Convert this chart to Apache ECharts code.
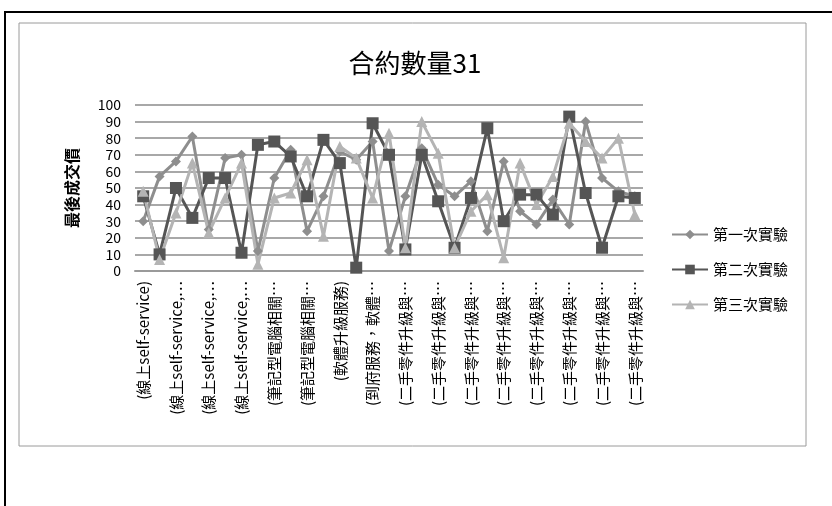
<!DOCTYPE html>
<html>
<head>
<meta charset="utf-8">
<script src="https://cdn.jsdelivr.net/npm/echarts@6/dist/echarts.min.js"></script>
<style>
  html, body { margin: 0; padding: 0; background: #fff; }
  #chart { width: 832px; height: 506px; }
</style>
</head>
<body>
<div id="chart"></div>
<script>
var categories = [
  '(線上self-service)', '(線上self-service)',
  '(線上self-service,…', '(線上self-service,…',
  '(線上self-service,…', '(線上self-service,…',
  '(線上self-service,…', '(筆記型電腦相關…',
  '(筆記型電腦相關…', '(筆記型電腦相關…',
  '(筆記型電腦相關…', '(軟體升級服務)',
  '(軟體升級服務)', '(到府服務，軟體…',
  '(到府服務，軟體…', '(二手零件升級與…',
  '(二手零件升級與…', '(二手零件升級與…',
  '(二手零件升級與…', '(二手零件升級與…',
  '(二手零件升級與…', '(二手零件升級與…',
  '(二手零件升級與…', '(二手零件升級與…',
  '(二手零件升級與…', '(二手零件升級與…',
  '(二手零件升級與…', '(二手零件升級與…',
  '(二手零件升級與…', '(二手零件升級與…',
  '(二手零件升級與…'
];
var seriesNames = ['第一次實驗', '第二次實驗', '第三次實驗'];
var trial1 = [30, 57, 66, 81, 25, 68, 70, 12, 56, 73, 24, 45, 72, 67, 78, 12,
              45, 74, 52, 45, 54, 24, 66, 36, 28, 43, 28, 90, 56, 48, 45];
var trial2 = [45, 10, 50, 32, 56, 56, 11, 76, 78, 69, 45, 79, 65, 2, 89, 70,
              13, 70, 42, 14, 44, 86, 30, 46, 46, 34, 93, 47, 14, 45, 44];
var trial3 = [48, 7, 35, 65, 23, 44, 65, 4, 44, 47, 67, 21, 75, 68, 44, 83,
              14, 90, 71, 14, 36, 46, 8, 65, 40, 57, 89, 78, 68, 80, 34];
var yTicks = [0, 10, 20, 30, 40, 50, 60, 70, 80, 90, 100];

var font = '"Noto Sans CJK TC", "Noto Sans", sans-serif';
var colors = ['#8e8e8e', '#555555', '#b4b4b4'];
var symbols = ['diamond', 'rect', 'triangle'];
var symbolSizes = [10, 12, 11];

var chart = echarts.init(document.getElementById('chart'));

var seriesList = [];
var allData = [trial1, trial2, trial3];
for (var i = 0; i < allData.length; i++) {
  seriesList.push({
    name: seriesNames[i],
    type: 'line',
    data: allData[i],
    symbol: symbols[i],
    symbolSize: symbolSizes[i],
    showAllSymbol: true,
    lineStyle: { color: colors[i], width: 3 },
    itemStyle: { color: colors[i] },
    emphasis: { disabled: true }
  });
}

var option = {
  animation: false,
  backgroundColor: '#fff',
  color: colors,
  textStyle: { fontFamily: font },
  title: {
    text: '合約數量31',
    left: 410,
    top: 45,
    textAlign: 'center',
    textStyle: { fontFamily: font, fontSize: 26, fontWeight: 'normal', color: '#000' }
  },
  legend: {
    orient: 'vertical',
    left: 666,
    top: 222,
    itemGap: 20,
    itemWidth: 36,
    itemHeight: 12,
    data: seriesNames,
    textStyle: { fontFamily: font, fontSize: 15, color: '#000' }
  },
  grid: { left: 135, right: 189, top: 105, bottom: 235, containLabel: false },
  xAxis: {
    type: 'category',
    data: categories,
    boundaryGap: true,
    axisLine: { lineStyle: { color: '#9a9a9a', width: 2 } },
    axisTick: { show: false },
    axisLabel: {
      interval: 1,
      rotate: 90,
      margin: 10,
      fontFamily: font,
      fontSize: 15,
      color: '#000'
    }
  },
  yAxis: {
    type: 'value',
    min: yTicks[0],
    max: yTicks[yTicks.length - 1],
    interval: 10,
    name: '最後成交價',
    nameLocation: 'middle',
    nameGap: 55,
    nameTextStyle: { fontFamily: font, fontSize: 16, fontWeight: 'bold', color: '#000' },
    axisLine: { show: false },
    axisTick: { show: false },
    axisLabel: { fontFamily: font, fontSize: 14, color: '#000', margin: 14 },
    splitLine: { lineStyle: { color: '#a8a8a8', width: 2 } }
  },
  graphic: [
    // outer frame
    { type: 'line', shape: { x1: 4, y1: 12, x2: 832, y2: 12 }, style: { stroke: '#000', lineWidth: 2 } },
    { type: 'line', shape: { x1: 5, y1: 12, x2: 5, y2: 506 }, style: { stroke: '#000', lineWidth: 2 } },
    // chart area border
    { type: 'rect', shape: { x: 19, y: 23, width: 787, height: 423 },
      style: { fill: 'none', stroke: '#9a9a9a', lineWidth: 1 } }
  ],
  series: seriesList
};

chart.setOption(option);
</script>
</body>
</html>
